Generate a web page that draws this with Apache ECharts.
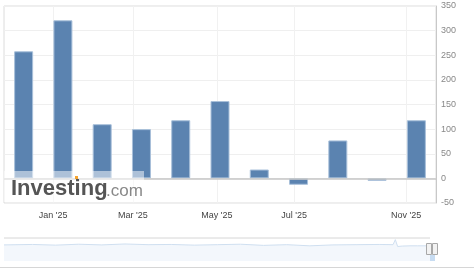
<!DOCTYPE html>
<html>
<head>
<meta charset="utf-8">
<script src="https://cdn.jsdelivr.net/npm/echarts@6/dist/echarts.min.js"></script>
<style>
html,body{margin:0;padding:0;background:#fff;}
#c{width:474px;height:271px;}
</style>
</head>
<body>
<div id="c"></div>
<script>
// ---- data ----
const barIndex = [0, 1, 2, 3, 4, 5, 6, 7, 8, 9, 10];
const barValues = [258, 321, 110, 100, 118, 157, 18, -13, 77, -5, 118];
const tickLabels = ["Jan '25", "Mar '25", "May '25", "Jul '25", "Nov '25"];
const tickPos = [0.75, 2.78, 4.92, 6.89, 9.74];
const navYears = [1968.3, 1972, 1975, 1978, 1981, 1984, 1987, 1990, 1993, 1996, 1999, 2002, 2005, 2008, 2011, 2014, 2017, 2018.8, 2019.1, 2019.4, 2020, 2021, 2022, 2023.6];
const navValues = [7.0, 7.2, 6.9, 7.3, 7.0, 7.4, 7.1, 7.2, 6.9, 7.1, 7.3, 6.8, 7.1, 6.6, 7.0, 7.1, 7.2, 7.1, 9.3, 6.3, 6.5, 6.6, 6.6, 6.6];
const navLabels = [1980, 2000, 2020];

const chart = echarts.init(document.getElementById('c'), null, {renderer: 'canvas'});
const labelFont = {fontFamily: 'Liberation Sans, Arial, sans-serif'};

chart.setOption({
  animation: false,
  grid: [
    {left: 4, right: 38, top: 6, height: 197, show: true, borderColor: '#dcdcdc', borderWidth: 1},
    {left: 4, right: 44, top: 238, height: 23, show: false}
  ],
  xAxis: [
    {
      type: 'value', gridIndex: 0, min: -0.5, max: 10.5,
      axisLine: {show: false, onZero: false},
      axisTick: {show: false, customValues: tickPos},
      axisLabel: {
        customValues: tickPos, color: '#444', fontSize: 9, margin: 8, ...labelFont,
        formatter: function (v) { const i = tickPos.indexOf(v); return i >= 0 ? tickLabels[i] : ''; }
      },
      splitLine: {show: false}
    },
    {
      type: 'value', gridIndex: 1, min: 1968.3, max: 2023.6,
      axisLine: {show: false, onZero: false},
      axisTick: {show: false, customValues: navLabels},
      axisLabel: {customValues: navLabels, inside: true, margin: 3, color: '#999', fontSize: 9, ...labelFont},
      splitLine: {show: false}
    }
  ],
  yAxis: [
    {
      type: 'value', gridIndex: 0, position: 'right', min: -50, max: 350, interval: 50,
      axisLine: {show: true, onZero: false, lineStyle: {color: '#c8c8c8', width: 1}},
      axisTick: {show: false},
      axisLabel: {color: '#888', fontSize: 9, margin: 5, ...labelFont},
      splitLine: {show: true, lineStyle: {color: '#efefef', width: 1}}
    },
    {
      type: 'value', gridIndex: 1, min: 0, max: 10,
      show: false
    }
  ],
  series: [
    {
      type: 'line', xAxisIndex: 0, yAxisIndex: 0, data: [], silent: true, z: 0,
      markLine: {
        silent: true, symbol: 'none', label: {show: false}, z: 0, zlevel: 0,
        lineStyle: {color: '#f1f1f1', width: 1, type: 'solid'},
        data: tickPos.map(v => ({xAxis: v}))
      }
    },
    {
      type: 'bar', xAxisIndex: 0, yAxisIndex: 0, z: 3,
      data: barIndex.map((x, i) => [x, barValues[i]]),
      barWidth: 19,
      itemStyle: {color: '#5b83b0', borderColor: '#a9c0da', borderWidth: 1},
      markLine: {
        silent: true, symbol: 'none', label: {show: false}, z: 4,
        lineStyle: {color: '#c6c6c6', width: 1.5, type: 'solid'},
        data: [{yAxis: 0}]
      }
    },
    {
      type: 'line', xAxisIndex: 1, yAxisIndex: 1,
      data: navYears.map((x, i) => [x, navValues[i]]),
      symbol: 'none', smooth: false,
      lineStyle: {color: '#cfdff0', width: 1},
      areaStyle: {color: '#f3f7fc', opacity: 1}
    }
  ],
  graphic: [
    {type: 'rect', shape: {x: 4, y: 171, width: 140, height: 31}, style: {fill: 'rgba(255,255,255,0.5)'}, z: 10},
    {type: 'text', x: 11, y: 178, style: {text: 'Investing', font: 'bold 22px Liberation Sans, Arial, sans-serif', fill: '#555'}, z: 11},
    {type: 'text', x: 106, y: 183, style: {text: '.com', font: '17px Liberation Sans, Arial, sans-serif', fill: '#888'}, z: 11},
    {type: 'rect', shape: {x: 75, y: 176, width: 3, height: 3}, style: {fill: '#f6a531'}, z: 12},
    {type: 'line', shape: {x1: 4, y1: 238, x2: 430, y2: 238}, style: {stroke: '#d6d6d6', lineWidth: 1}, z: 5},
    {type: 'line', shape: {x1: 0, y1: 267.5, x2: 474, y2: 267.5}, style: {stroke: '#d6d6d6', lineWidth: 1}, z: 5},
    {type: 'rect', shape: {x: 430, y: 255, width: 5, height: 6}, style: {fill: '#c7dcf2'}, z: 6},
    {type: 'rect', shape: {x: 426.5, y: 243.5, width: 5, height: 11}, style: {fill: '#f2f2f2', stroke: '#a8a8a8', lineWidth: 1}, z: 7},
    {type: 'rect', shape: {x: 432.5, y: 243.5, width: 5, height: 11}, style: {fill: '#f2f2f2', stroke: '#a8a8a8', lineWidth: 1}, z: 7}
  ]
});
</script>
</body>
</html>
